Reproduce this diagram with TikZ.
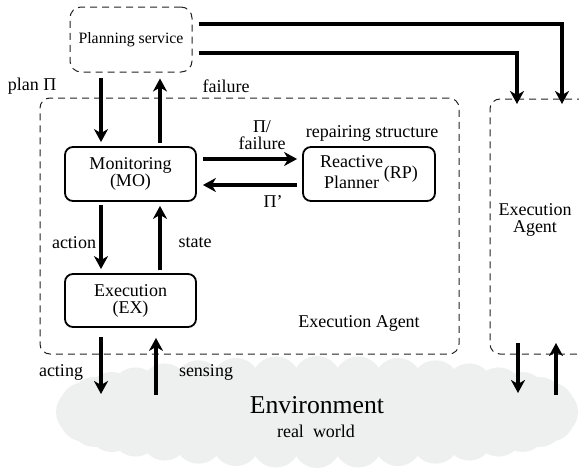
\documentclass[tikz,border=0pt]{standalone}
\usepackage{fontspec}
\setmainfont{Liberation Serif}
\usetikzlibrary{arrows.meta,calc}
\definecolor{cloudgray}{HTML}{EEEFEF}
\definecolor{dashgray}{HTML}{222222}
\tikzset{
  lab/.style={font=\fontsize{18}{17}\selectfont, inner sep=0pt, align=center},
  dbox/.style={draw=dashgray, line width=1pt, dash pattern=on 7pt off 5pt, rounded corners=11pt, inner sep=0pt},
  sbox/.style={draw=black, line width=1.8pt, rounded corners=8pt, inner sep=0pt, align=center,
    font=\fontsize{18}{17}\selectfont},
  arr/.style={line width=3.3pt, -{Stealth[length=13pt,width=14pt,inset=4pt]}},
  thickline/.style={line width=3.3pt}
}
\begin{document}
\begin{tikzpicture}[x=1pt,y=-1pt]
\path[use as bounding box, clip] (0,0) rectangle (579,471);
% cloud (environment)
\fill[cloudgray] (317,412) ellipse [x radius=238, y radius=38];
\foreach \a in {0,10,...,350}
  \fill[cloudgray] ({317+237*cos(\a)},{412+32*sin(\a)}) circle (24);
\node[inner sep=0pt, font=\fontsize{25.7}{28}\selectfont] (env) at (317,405) {Environment};
\node[lab] (rw) at (316,431) {real\ \ world};

% containers
\node[dbox, minimum width=122pt, minimum height=65pt, font=\fontsize{15.8}{17}\selectfont] (ps) at (131,39.5) {Planning service};
\node[dbox, rounded corners=10pt, minimum width=419pt, minimum height=256pt] (ea) at (249.5,226) {};
\node[dbox, rounded corners=10pt, minimum width=140pt, minimum height=255pt] (ea2) at (560,226.5) {};
\node[lab] (eal) at (359,323) {Execution Agent};
\node[lab, font=\fontsize{18}{17}\selectfont] (ea2l) at (535,219.5) {Execution\\Agent};

% components
\node[sbox, minimum width=131pt, minimum height=54pt] (mo) at (130.5,174) {Monitoring\\(MO)};
\node[sbox, minimum width=132pt, minimum height=54pt, font=\fontsize{18}{21}\selectfont] (rp) at (369,174)
  {\begin{tabular}{@{}c@{}}Reactive\\Planner\end{tabular}\hspace{1pt}(RP)};
\node[sbox, minimum width=131pt, minimum height=53pt] (ex) at (130.5,300.5) {Execution\\(EX)};

% helper coordinates
\coordinate (xL) at (101,0);
\coordinate (xR) at (160,0);
\coordinate (xS) at (156,0);
\coordinate (xT1) at (562,0);
\coordinate (xT2) at (517,0);
\coordinate (yT1) at (0,24);
\coordinate (yT2) at (0,53);
\coordinate (tip1) at (562,104);
\coordinate (tip2) at (517,104);
\coordinate (actend) at (101,394);
\coordinate (sensbot) at (156,395);
\coordinate (rdtop) at (518,343);
\coordinate (rdend) at (518,393);
\coordinate (rubot) at (556,395);
\coordinate (rutip) at (556,343);

% arrows
\draw[arr, shorten <=5pt, shorten >=4pt] (ps.south -| xL) -- (mo.north -| xL);
\draw[arr, shorten <=3pt, shorten >=6pt] (mo.north -| xR) -- (ps.south -| xR);
\draw[arr, shorten <=6pt, shorten >=5pt] ([yshift=15pt]mo.east) -- ([yshift=15pt]rp.west);
\draw[arr, shorten <=5pt, shorten >=6pt] ([yshift=-11pt]rp.west) -- ([yshift=-11pt]mo.east);
\draw[arr, shorten <=3pt, shorten >=4pt] (mo.south -| xL) -- (ex.north -| xL);
\draw[arr, shorten <=3pt, shorten >=4pt] (ex.north -| xR) -- (mo.south -| xR);
\draw[arr, shorten <=9pt] (ex.south -| xL) -- (actend);
\draw[arr, shorten >=10pt] (sensbot) -- (ex.south -| xS);
\draw[arr, shorten <=6pt] (ps.east |- yT1) -- (xT1 |- yT1) -- (tip1);
\draw[arr, shorten <=6pt] (ps.east |- yT2) -- (xT2 |- yT2) -- (tip2);
\draw[arr] (rdtop) -- (rdend);
\draw[arr] (rubot) -- (rutip);

% labels
\node[lab] (lplan) at (32,86) {plan Π};
\node[lab] (lfail) at (226,86) {failure};
\node[lab] (lpif) at (262,135) {Π/\\failure};
\node[lab] (lpip) at (273,202) {Π'};
\node[lab] (lrep) at (372,133) {repairing structure};
\node[lab] (lact) at (74,243) {action};
\node[lab] (lstate) at (195,243) {state};
\node[lab] (lacting) at (61,372) {acting};
\node[lab] (lsens) at (206,372) {sensing};
\end{tikzpicture}
\end{document}
